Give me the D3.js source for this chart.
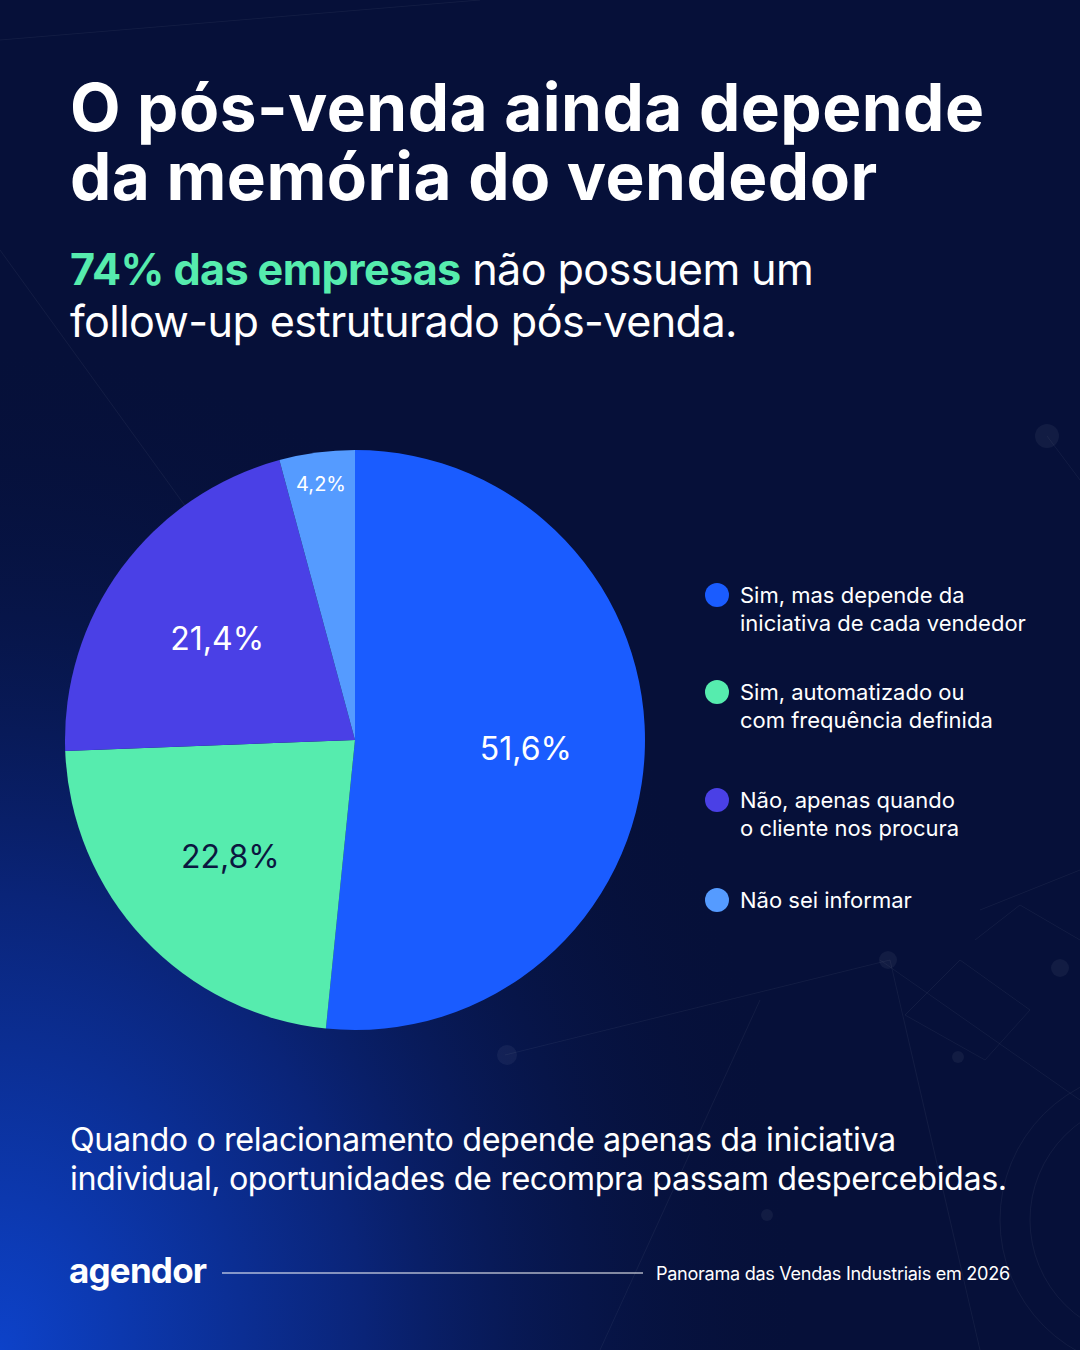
<!DOCTYPE html>
<html>
<head>
<meta charset="utf-8">
<script src="https://cdn.jsdelivr.net/npm/d3@7"></script>
<style>
  html, body { margin: 0; padding: 0; background: #061039; }
  svg { display: block; font-family: Inter, "Noto Sans", sans-serif; }
</style>
</head>
<body>
<div id="chart"></div>
<script>
// data
const categories = [
    "Sim, mas depende da|iniciativa de cada vendedor",
    "Sim, automatizado ou|com frequência definida",
    "Não, apenas quando|o cliente nos procura",
    "Não sei informar"
];
const values = [51.6, 22.8, 21.4, 4.2];
const valueLabels = ["51,6%", "22,8%", "21,4%", "4,2%"];
const colors = ["#1a5cff", "#56ecae", "#4a40e6", "#559bff"];
const labelColors = ["#ffffff", "#0b1640", "#ffffff", "#ffffff"];

const width = 1080, height = 1350;

const svg = d3.select("#chart").append("svg")
    .attr("width", width)
    .attr("height", height);

// background with blue glow bottom-left
const defs = svg.append("defs");
const glow = defs.append("radialGradient")
    .attr("id", "glow")
    .attr("cx", 0).attr("cy", 1).attr("r", 0.75);
glow.append("stop").attr("offset", "0%").attr("stop-color", "#0d42c9");
glow.append("stop").attr("offset", "45%").attr("stop-color", "#0a2478");
glow.append("stop").attr("offset", "100%").attr("stop-color", "#061039").attr("stop-opacity", 0);

svg.append("rect").attr("width", width).attr("height", height).attr("fill", "#061039");
svg.append("rect").attr("width", width).attr("height", height).attr("fill", "url(#glow)");

// faint network decoration
const deco = svg.append("g").attr("stroke", "#ffffff").attr("stroke-opacity", 0.05).attr("fill", "none");
[[0, 40, 480, 0], [0, 250, 340, 720], [600, 1350, 760, 1000], [880, 960, 1080, 1100],
 [890, 960, 980, 1350], [980, 910, 1080, 870], [1047, 436, 1080, 480], [505, 1055, 890, 960]]
    .forEach(l => deco.append("line").attr("x1", l[0]).attr("y1", l[1]).attr("x2", l[2]).attr("y2", l[3]));
deco.append("path").attr("d", "M975,940 L1020,905 L1080,940 M905,1015 L960,960 L1030,1010 L985,1060 Z");
deco.append("circle").attr("cx", 1150).attr("cy", 1220).attr("r", 150);
deco.append("circle").attr("cx", 1150).attr("cy", 1220).attr("r", 120);
[[1047, 436, 12], [888, 960, 9], [507, 1055, 10], [1060, 968, 9], [958, 1057, 6], [767, 1215, 6]]
    .forEach(c => svg.append("circle").attr("cx", c[0]).attr("cy", c[1]).attr("r", c[2])
        .attr("fill", "#ffffff").attr("fill-opacity", 0.05));

// helper to fit text to a measured width
function fit(sel, target) {
    const w = sel.node().getComputedTextLength();
    const fs = parseFloat(sel.attr("font-size"));
    sel.attr("font-size", fs * target / w);
}

// title (one text, two lines)
const title = ["O pós-venda ainda depende", "da memória do vendedor"];
const tMeasure = svg.append("text").attr("font-size", 64).attr("font-weight", 700)
    .attr("letter-spacing", 0.5).text(title[0]);
fit(tMeasure, 915);
const fsTitle = tMeasure.attr("font-size");
tMeasure.remove();
svg.append("text").attr("font-size", fsTitle).attr("font-weight", 700).attr("fill", "#fff")
    .attr("letter-spacing", 0.5)
    .selectAll("tspan").data(title).enter().append("tspan")
    .attr("x", 70).attr("y", (d, i) => 131 + i * 69)
    .text(d => d);

// subtitle
const sub1 = svg.append("text").attr("x", 70).attr("y", 285).attr("font-size", 40).attr("fill", "#fff");
sub1.append("tspan").attr("font-weight", 700).attr("fill", "#56ecae").text("74% das empresas");
sub1.append("tspan").text(" não possuem um");
sub1.attr("letter-spacing", -0.6);
fit(sub1, 742);
svg.append("text").attr("x", 70).attr("y", 337).attr("font-size", sub1.attr("font-size"))
    .attr("letter-spacing", -0.6).attr("fill", "#fff").text("follow-up estruturado pós-venda.");

// pie
const cx = 355, cy = 740, r = 290;
const pie = d3.pie().sort(null).value(d => d)(values);
const arc = d3.arc().innerRadius(0).outerRadius(r);
const g = svg.append("g").attr("transform", `translate(${cx},${cy})`);

g.selectAll("path")
    .data(pie)
    .enter().append("path")
    .attr("d", arc)
    .attr("fill", (d, i) => colors[i]);

const bigLabel = d3.arc().innerRadius(r * 0.59).outerRadius(r * 0.59);
const smallLabel = d3.arc().innerRadius(r * 0.89).outerRadius(r * 0.89);

g.selectAll(".lbl")
    .data(pie)
    .enter().append("text")
    .attr("class", "lbl")
    .attr("transform", d => `translate(${(d.data < 5 ? smallLabel : bigLabel).centroid(d)})`)
    .attr("text-anchor", "middle")
    .attr("dy", "0.35em")
    .attr("font-size", d => d.data < 5 ? 20 : 32)
    .attr("fill", (d, i) => labelColors[i])
    .text((d, i) => valueLabels[i]);

// legend
const legY = [595, 692, 800, 900];
const leg = svg.selectAll(".leg")
    .data(categories)
    .enter().append("g")
    .attr("class", "leg")
    .attr("transform", (d, i) => `translate(717,${legY[i]})`);

leg.append("circle").attr("r", 12).attr("fill", (d, i) => colors[i]);
leg.append("text")
    .attr("x", 23).attr("y", 8)
    .attr("font-size", 22).attr("fill", "#fff")
    .selectAll("tspan")
    .data(d => d.split("|"))
    .enter().append("tspan")
    .attr("x", 23).attr("dy", (d, i) => i ? 28 : 0)
    .text(d => d);

// bottom note
const note = ["Quando o relacionamento depende apenas da iniciativa",
              "individual, oportunidades de recompra passam despercebidas."];
const n2 = svg.append("text").attr("x", 70).attr("y", 1190)
    .attr("font-size", 31).attr("fill", "#fff").attr("letter-spacing", -0.4).text(note[1]);
fit(n2, 936);
svg.append("text").attr("x", 70).attr("y", 1151)
    .attr("font-size", n2.attr("font-size")).attr("fill", "#fff").attr("letter-spacing", -0.4).text(note[0]);

// footer
svg.append("text").attr("x", 69).attr("y", 1283)
    .attr("font-size", 35).attr("font-weight", 700).attr("fill", "#fff")
    .attr("letter-spacing", -0.8).text("agendor");
svg.append("line").attr("x1", 222).attr("x2", 643).attr("y1", 1273).attr("y2", 1273)
    .attr("stroke", "#fff").attr("stroke-width", 1.2);
const src = svg.append("text").attr("x", 656).attr("y", 1280)
    .attr("font-size", 18).attr("fill", "#fff").attr("letter-spacing", -0.3)
    .text("Panorama das Vendas Industriais em 2026");
fit(src, 354);
</script>
</body>
</html>
